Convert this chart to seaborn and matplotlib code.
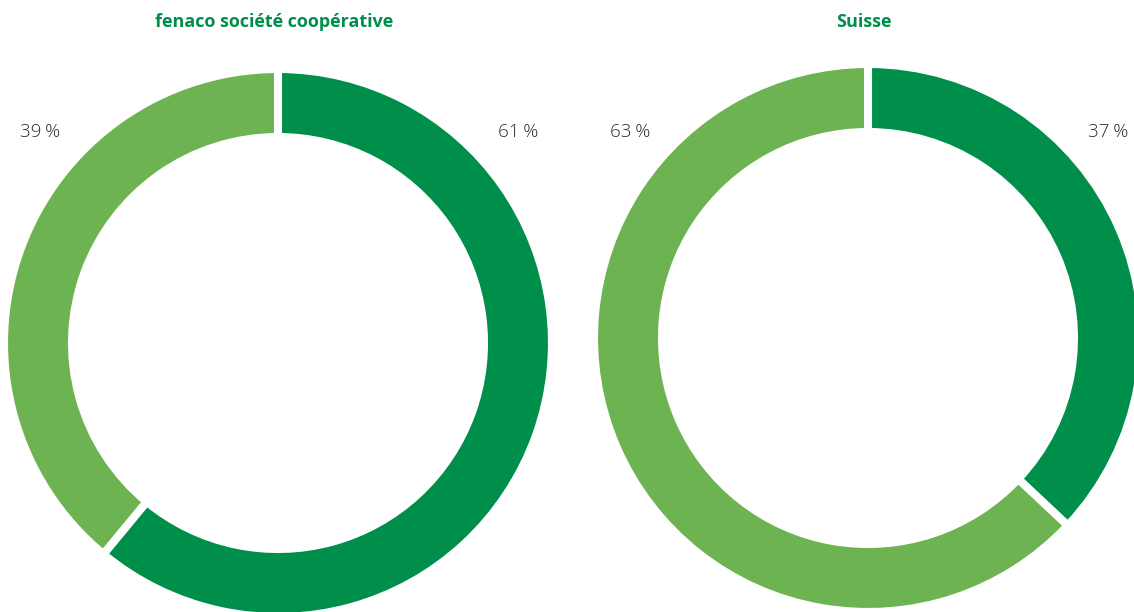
import matplotlib
matplotlib.use("Agg")
import matplotlib.pyplot as plt
import seaborn as sns

# data
groups = ["fenaco société coopérative", "Suisse"]
dark_share = [61, 37]
light_share = [39, 63]

dark_green = "#008f4a"
light_green = "#6db351"
text_grey = "#2b2b2b"

sns.set_theme(style="white")
plt.rcParams["font.family"] = ["Open Sans", "DejaVu Sans"]

fig = plt.figure(figsize=(11.34, 6.12), dpi=100)
ax = fig.add_axes([0, 0, 1, 1])

centers = [(278, 343), (868, 338)]
# white edge eats ~4px on each side, so pad the ring
radius = 274
ring = 68

for i, name in enumerate(groups):
    cx, cy = centers[i]
    # y axis is flipped below, so go counterclockwise from the bottom
    ax.pie([dark_share[i], light_share[i]],
           colors=[dark_green, light_green],
           startangle=-90, counterclock=True,
           center=(cx, cy), radius=radius, frame=True,
           wedgeprops=dict(width=ring, edgecolor="white", linewidth=5.8))
    ax.text(cx - 4, 22, name, ha="center", va="center",
            fontsize=13, fontweight="bold", color=dark_green)
    ax.text(cx - 238, 132, f"{light_share[i]}\u2009%", ha="center", va="center",
            fontsize=13.5, fontweight="light", color=text_grey)
    ax.text(cx + 240, 132, f"{dark_share[i]}\u2009%", ha="center", va="center",
            fontsize=13.5, fontweight="light", color=text_grey)

ax.set_xlim(0, 1134)
ax.set_ylim(612, 0)
ax.set_aspect("equal")
ax.axis("off")

fig.savefig("out.png", dpi=100)
